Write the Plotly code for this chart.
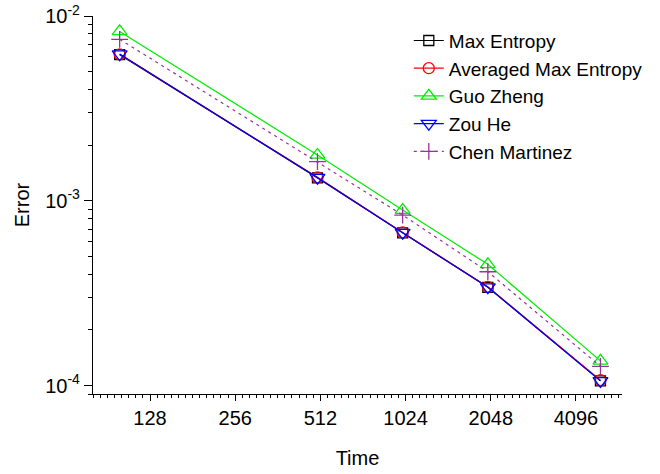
import numpy as np
import plotly.graph_objects as go

# ---- data ----
time_steps = [100, 500, 1000, 2000, 5000]
max_entropy = [6.18e-3, 1.33e-3, 6.71e-4, 3.40e-4, 1.06e-4]
avg_max_entropy = [6.20e-3, 1.34e-3, 6.74e-4, 3.42e-4, 1.07e-4]
guo_zheng = [8.25e-3, 1.77e-3, 8.90e-4, 4.53e-4, 1.36e-4]
zou_he = [6.22e-3, 1.335e-3, 6.72e-4, 3.41e-4, 1.06e-4]
chen_martinez = [7.48e-3, 1.63e-3, 8.37e-4, 4.13e-4, 1.27e-4]

x_tick_vals = [128, 256, 512, 1024, 2048, 4096]
x_tick_text = ["128", "256", "512", "1024", "2048", "4096"]
y_tick_vals = [1e-4, 1e-3, 1e-2]
y_tick_text = ["10<sup>-4</sup>", "10<sup>-3</sup>", "10<sup>-2</sup>"]

FONT = "Liberation Sans, Arial, sans-serif"
FS = 20

series = [
    ("Max Entropy", max_entropy, "#000000", "square-open", 10, "solid"),
    ("Averaged Max Entropy", avg_max_entropy, "#FF0000", "circle-open", 11, "solid"),
    ("Guo Zheng", guo_zheng, "#00EE00", "triangle-up-open", 13, "solid"),
    ("Zou He", zou_he, "#0000FF", "triangle-down-open", 13, "solid"),
    ("Chen Martinez", chen_martinez, "#993399", "cross-thin-open", 12, "3px,4px"),
]

fig = go.Figure()
for name, vals, color, sym, size, dash in series:
    fig.add_trace(go.Scatter(
        x=time_steps, y=vals, name=name, mode="lines+markers",
        line=dict(color=color, width=1.2, dash=dash),
        marker=dict(symbol=sym, size=size, color=color,
                    line=dict(color=color, width=1.3)),
    ))

# minor tick positions
x_minor = [2 ** (6 + j / 12) for j in range(0, 12 * 7) if j % 12 != 0]
y_minor = [k * 10.0 ** e for e in (-5, -4, -3) for k in range(2, 10)]

fig.update_layout(
    width=660, height=474,
    margin=dict(l=93, r=36, t=16, b=80),
    paper_bgcolor="white", plot_bgcolor="white",
    font=dict(family=FONT, size=FS, color="black"),
    showlegend=True,
    legend=dict(x=0.597, y=0.985, xanchor="left", yanchor="top",
                bgcolor="rgba(0,0,0,0)", font=dict(size=19),
                itemwidth=30, tracegroupgap=0),
    xaxis=dict(
        type="log", range=[np.log10(80.5), np.log10(5958)],
        automargin=False,
        tickmode="array", tickvals=x_tick_vals, ticktext=x_tick_text,
        ticks="outside", ticklen=6, tickwidth=1.2, tickcolor="black",
        showline=True, linecolor="black", linewidth=1.2,
        showgrid=False, zeroline=False,
        minor=dict(tickmode="array", tickvals=x_minor, ticks="outside",
                   ticklen=3, tickwidth=1, tickcolor="black", showgrid=False),
        title=dict(text="Time", standoff=22, font=dict(size=FS)),
        tickfont=dict(size=FS),
    ),
    yaxis=dict(
        type="log", range=[np.log10(9e-5), -2],
        automargin=False,
        tickmode="array", tickvals=y_tick_vals, ticktext=y_tick_text,
        ticks="outside", ticklen=8, tickwidth=1.2, tickcolor="black",
        showline=True, linecolor="black", linewidth=1.2,
        showgrid=False, zeroline=False,
        minor=dict(tickmode="array", tickvals=y_minor, ticks="outside",
                   ticklen=4, tickwidth=1, tickcolor="black", showgrid=False),
        title=dict(text="Error", standoff=10, font=dict(size=FS)),
        tickfont=dict(size=FS),
    ),
)

fig.write_html("out.html",
               config={"displayModeBar": False},
               post_script="document.body.style.margin='0px';document.body.style.overflow='hidden';")
